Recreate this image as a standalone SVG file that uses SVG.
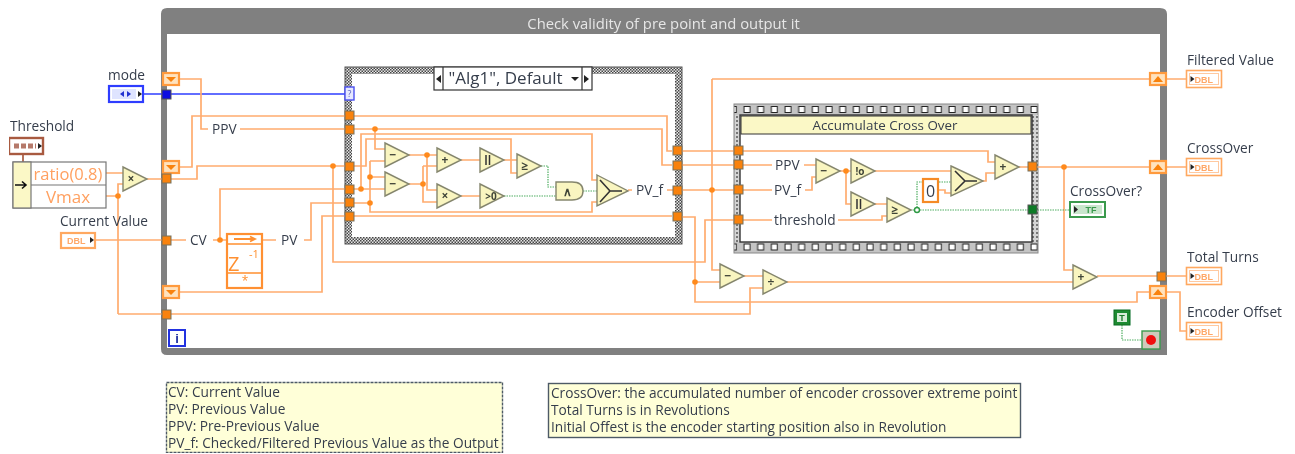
<svg xmlns="http://www.w3.org/2000/svg" width="1295" height="454" viewBox="0 0 1295 454">
<style>
text{font-family:"Open Sans","Noto Sans","Liberation Sans",sans-serif;fill:#363e4c;font-size:13.7px}
.w{fill:none;stroke:#ffac6f;stroke-width:1.7}
.g{fill:none;stroke:#4fae62;stroke-width:1.2;stroke-dasharray:1.5 1}
.b{fill:none;stroke:#2f3cff;stroke-width:1.4}
.j{fill:#ff8a1e}
.t{fill:#f98209;stroke:#77705f;stroke-width:1}
.tri{fill:#f9f5c0;stroke:#85866d;stroke-width:1.4}
.op{font-size:12px;text-anchor:middle;fill:#3f4438;font-weight:700}
.sr{fill:#ffe2bd;stroke:#ff9a3c;stroke-width:2.2}
.srf{fill:#f98209}
.term{fill:#fff;stroke:#ffa860;stroke-width:1.6}
.in{fill:none;stroke:#ffc9a0;stroke-width:1}
.dbl{font-size:9px;font-weight:700;fill:#ffa868;font-family:"Liberation Sans",sans-serif}
.note{fill:#ffffd8;stroke:#4d5a66;stroke-width:1.4}
</style>
<defs>
<filter id="soft" x="0" y="0" width="100%" height="100%"><feGaussianBlur stdDeviation="0.45"/></filter>
<pattern id="hatch" width="3" height="3" patternUnits="userSpaceOnUse"><rect width="3" height="3" fill="#e8e8e8"/><rect width="1.5" height="1.5" fill="#444"/><rect x="1.5" y="1.5" width="1.5" height="1.5" fill="#444"/></pattern>
<pattern id="film" width="13.67" height="149" patternUnits="userSpaceOnUse" x="740" y="104"><rect width="13.67" height="149" fill="#c4c4c4"/><rect x="4" y="2.5" width="6" height="6" fill="#fff" stroke="#222" stroke-width="1"/><rect x="4" y="140" width="6" height="6" fill="#fff" stroke="#222" stroke-width="1"/></pattern>
<pattern id="dots" width="4" height="4" patternUnits="userSpaceOnUse"><rect width="4" height="4" fill="#d4d4d4"/><rect width="2" height="2" fill="#777"/></pattern>
<polygon id="tr" class="tri" points="0,0 24,12 0,24"/>
<g id="srd"><rect class="sr" x="0" y="0" width="16" height="12"/><polygon class="srf" points="3,4 13,4 8,9"/></g>
<g id="sru"><rect class="sr" x="0" y="0" width="16" height="12"/><polygon class="srf" points="3,9 13,9 8,3"/></g>
<rect id="tn" class="t" width="9" height="9"/>
<g id="dblout"><rect class="term" x="0" y="0" width="35" height="17"/><rect class="in" x="3" y="3" width="29" height="11"/><polygon points="4,5.500 8,8.500 4,11.500" fill="#222"/><text class="dbl" x="8" y="12.500">DBL</text></g>
</defs>
<g filter="url(#soft)">
<g id="loop-frame">
<path d="M167 348V34H1160V348ZM161 14Q161 8 167 8H1160Q1167 8 1167 14V355H167Q161 355 161 349Z" fill="#808080" fill-rule="evenodd"/>
<text x="663.500" y="29" text-anchor="middle" style="fill:#e6e6e6;font-size:14.8px">Check validity of pre point and output it</text>
</g>
<g id="case-frame">
<rect x="345" y="67" width="337" height="177" fill="url(#hatch)" stroke="#555"/>
<rect x="352" y="74" width="323" height="163" fill="#fff"/>
</g>
<g id="sequence-frame">
<rect x="734" y="104" width="304" height="149" fill="url(#film)" stroke="#888"/>
<rect x="735" y="115" width="6" height="127" fill="url(#dots)"/>
<rect x="1032" y="115" width="6" height="127" fill="url(#dots)"/>
<rect x="740" y="115" width="292" height="127" fill="#fff" stroke="#333" stroke-width="1.4"/>
<rect x="741" y="116" width="290" height="18" fill="#fbf8c6" stroke="#333"/>
<text x="885" y="130" text-anchor="middle" style="font-size:13.4px">Accumulate Cross Over</text>
</g>
<g id="connectors">
<path class="b" d="M143 94H345"/>
<path class="w" style="stroke:#a85a40" d="M23 154V162"/>
<path class="w" d="M106 173H123M106 196H118M118 314V184H123M147 179H197V166H349M118 314H750V288H763"/>
<path class="w" d="M179 79H201V129H208M240 129H662V165H672M179 167H192V116H667V151H672"/>
<path class="w" d="M96 240H186M213 240H227M220 240V189H349M262 240H276M304 240H311V203H349M179 292H322V216H672"/>
<path class="w" d="M333 166V262H705V220H734"/>
<path class="w" d="M375 129V149H385M349 166H366V139H511V173H517M349 189H361V134H592V180H597M354 189H385M370 161H385M370 161V212H592V202H597M354 203H370M370 177H385"/>
<path class="w" d="M409 155H437M427 155V190H437M409 184H423M423 166V202H437M423 166H437M423 202H437M461 160H480M461 196H480M504 160H517M632 190H628M667 190H673"/>
<path class="g" d="M541 166H548V187H556M504 196H556M583 191H597"/>
<path class="w" d="M682 151H988V162H995M682 165H772M804 165H817M682 190H772M805 190H812V177H817M712 79H1150M712 79V270H720M682 217H695V302H1137V292H1150M695 282H720M743 220H772M838 220H882V216H887M744 276H763"/>
<path class="w" d="M840 171H851M846 171V204H851M875 171H951M875 204H887M938 190H945V193H951M983 181H986V173H995M1019 167H1150M1064 167V270H1073M787 282H1073M1097 276H1186M1167 79H1186M1167 167H1186M1167 292H1180V331H1186"/>
<path class="g" d="M910 210H1069M917 210V182H951M1122 325V340H1142"/>
<circle class="j" cx="118" cy="196" r="2.8"/><circle class="j" cx="220" cy="240" r="2.8"/><circle class="j" cx="333" cy="166" r="2.8"/><circle class="j" cx="375" cy="129" r="2.8"/><circle class="j" cx="361" cy="189" r="2.8"/><circle class="j" cx="370" cy="177" r="2.8"/><circle class="j" cx="370" cy="203" r="2.8"/><circle class="j" cx="427" cy="155" r="2.8"/><circle class="j" cx="423" cy="184" r="2.8"/><circle class="j" cx="712" cy="190" r="2.8"/><circle class="j" cx="695" cy="282" r="2.8"/><circle class="j" cx="846" cy="171" r="2.8"/><circle class="j" cx="1064" cy="167" r="2.8"/>
<circle cx="917" cy="210" r="2.5" fill="#fff" stroke="#2f9a45" stroke-width="1.4"/>
</g>
<g id="mode"><text x="108" y="80">mode</text><rect x="109" y="86" width="34" height="16" fill="#fff" stroke="#2f3cff" stroke-width="2.2"/><rect x="112" y="89" width="24" height="10" fill="#dfe4ff"/><polygon points="120,94 124,91 124,97" fill="#2230d0"/><polygon points="131,94 127,91 127,97" fill="#2230d0"/><polygon points="138,91 142,94 138,97" fill="#222"/><rect x="162" y="90" width="9" height="9" fill="#0a0ae0" stroke="#555"/><rect x="345" y="87" width="9" height="13" fill="#e6e8ff" stroke="#4a50f0" stroke-width="1.4"/><text x="349.500" y="97" text-anchor="middle" style="font-size:9px;fill:#5a60c0">?</text></g>
<g id="threshold"><text x="10" y="131">Threshold</text><rect x="9" y="138" width="34" height="16" fill="#fff" stroke="#a85a40" stroke-width="2.4"/><path d="M14 146H36" stroke="#b5796a" stroke-width="5" stroke-dasharray="5 2"/><polygon points="38,143 42,146 38,149" fill="#222"/></g>
<g id="bundle"><rect x="13" y="162" width="93" height="46" fill="#fff" stroke="#777" stroke-width="1.2"/><rect x="13" y="162" width="18" height="46" fill="#fbf8c6" stroke="#777" stroke-width="1.2"/><path d="M31 185H106" stroke="#777" stroke-width="1.2"/><path d="M15 185H25M22 181.500L26 185L22 188.500" stroke="#111" stroke-width="1.6" fill="none"/><text x="68" y="180" text-anchor="middle" style="font-size:16.500px;fill:#ffa060">ratio(0.8)</text><text x="68" y="203" text-anchor="middle" style="font-size:17px;fill:#ffa060">Vmax</text></g>
<g id="mult-threshold"><use href="#tr" x="123" y="167"/><text class="op" x="131" y="183">×</text></g>
<g id="current-value"><text x="60" y="226">Current Value</text><rect x="61" y="233" width="34" height="15" class="term" style="stroke-width:2.2"/><text class="dbl" x="67" y="244">DBL</text><polygon points="90,237 94,240 90,243" fill="#222"/></g>
<g id="left-tunnels"><use href="#srd" x="163" y="73"/><use href="#srd" x="163" y="161"/><use href="#srd" x="163" y="286"/><use href="#tn" x="162" y="174"/><use href="#tn" x="162" y="236"/><use href="#tn" x="162" y="310"/></g>
<g id="iter"><rect x="169" y="330" width="16" height="16" fill="#fff" stroke="#2230e0" stroke-width="2"/><text x="177" y="343" text-anchor="middle" style="font-size:13px;font-weight:700;fill:#2230a0;font-family:'Liberation Sans',sans-serif">i</text></g>
<g id="labels-left"><rect x="208" y="121" width="32" height="16" fill="#fff"/><text x="212" y="134">PPV</text><rect x="186" y="232" width="27" height="16" fill="#fff"/><text x="190" y="245">CV</text><rect x="276" y="232" width="28" height="16" fill="#fff"/><text x="281" y="245">PV</text></g>
<g id="delay"><rect x="227" y="234" width="35" height="54" fill="#fff" stroke="#ff9030" stroke-width="2.2"/><path d="M227 244H262M227 273H262" stroke="#ff9030" stroke-width="1.6"/><path d="M234 239H254M250 236.500L255 239L250 241.500" stroke="#ff9030" stroke-width="1.8" fill="none"/><text x="228" y="271" style="font-size:20px;fill:#ff9030">Z</text><text x="249" y="258" style="font-size:11px;fill:#ff9030">-1</text><text x="245" y="285" text-anchor="middle" style="font-size:12px;fill:#ff9030">*</text></g>
<g id="case-selector"><rect x="434" y="67" width="158" height="23" fill="#fff" stroke="#333" stroke-width="1.2"/><path d="M443 67V90M582 67V90" stroke="#333" stroke-width="1.2"/><polygon points="441,75 436,79 441,83" fill="#222"/><polygon points="584,75 589,79 584,83" fill="#222"/><polygon points="571,77 579,77 575,81" fill="#222"/><text x="505.500" y="84" text-anchor="middle" style="font-size:17px">"Alg1", Default</text></g>
<g id="case-tunnels"><use href="#tn" x="345" y="111"/><use href="#tn" x="345" y="125"/><use href="#tn" x="345" y="162"/><use href="#tn" x="345" y="185"/><use href="#tn" x="345" y="198"/><use href="#tn" x="345" y="212"/><use href="#tn" x="673" y="146"/><use href="#tn" x="673" y="161"/><use href="#tn" x="673" y="186"/><use href="#tn" x="673" y="212"/></g>
<g id="sub1"><use href="#tr" x="385" y="143"/><text class="op" x="393" y="159">−</text></g>
<g id="sub2"><use href="#tr" x="385" y="172"/><text class="op" x="393" y="188">−</text></g>
<g id="add1"><use href="#tr" x="437" y="148"/><text class="op" x="445" y="164">+</text></g>
<g id="mul1"><use href="#tr" x="437" y="184"/><text class="op" x="445" y="200">×</text></g>
<g id="abs1"><use href="#tr" x="480" y="148"/><path d="M486 155V165M489.500 155V165" stroke="#333" stroke-width="1.5"/></g>
<g id="gt0"><use href="#tr" x="480" y="184"/><text class="op" x="491" y="200" style="font-size:10px">&gt;0</text></g>
<g id="ge1"><use href="#tr" x="517" y="154"/><text class="op" x="525" y="170">≥</text></g>
<g id="and1"><path class="tri" d="M556 182H572Q583 182 583 191Q583 200 572 200H556Z"/><text class="op" x="567" y="196">∧</text></g>
<g id="select1"><polygon class="tri" points="597,175 628,191 597,206"/><path d="M600 180L610 191H622M600 202L610 191" stroke="#333" stroke-width="1.6" fill="none"/></g>
<text x="636" y="195">PV_f</text>
<g id="seq-tunnels"><use href="#tn" x="734" y="146"/><use href="#tn" x="734" y="160"/><use href="#tn" x="734" y="185"/><use href="#tn" x="734" y="215"/><use href="#tn" x="1028" y="162"/><rect x="1028" y="205" width="9" height="9" fill="#0b7a28" stroke="#555"/></g>
<g id="seq-labels"><text x="775" y="170">PPV</text><text x="774" y="195">PV_f</text><text x="774" y="225">threshold</text></g>
<g id="sub3"><use href="#tr" x="816" y="159"/><text class="op" x="824" y="175">−</text></g>
<g id="sign"><use href="#tr" x="851" y="159"/><text class="op" x="860" y="175" style="font-size:10px">!o</text></g>
<g id="abs2"><use href="#tr" x="851" y="192"/><path d="M857 199V209M860.500 199V209" stroke="#333" stroke-width="1.5"/></g>
<g id="ge2"><use href="#tr" x="887" y="198"/><text class="op" x="895" y="214">≥</text></g>
<g id="zero"><rect x="923" y="179" width="15" height="23" fill="#fff" stroke="#f58a28" stroke-width="2.2"/><text x="930.500" y="197" text-anchor="middle" style="font-size:16px">0</text></g>
<g id="select2"><polygon class="tri" points="951,166 983,181 951,196"/><path d="M955 171L965 181H977M955 191L965 181" stroke="#333" stroke-width="1.6" fill="none"/></g>
<g id="add2"><use href="#tr" x="995" y="155"/><text class="op" x="1003" y="171">+</text></g>
<g id="sub4"><use href="#tr" x="720" y="264"/><text class="op" x="728" y="280">−</text></g>
<g id="div1"><use href="#tr" x="763" y="270"/><text class="op" x="771" y="286">÷</text></g>
<g id="add3"><use href="#tr" x="1073" y="265"/><text class="op" x="1081" y="281">+</text></g>
<g id="crossover-q"><text x="1070" y="196">CrossOver?</text><rect x="1070" y="202" width="35" height="15" fill="#fff" stroke="#3a9a4e" stroke-width="2"/><rect x="1073" y="205" width="29" height="9" fill="#c9e6cd"/><polygon points="1074,206 1078,209.500 1074,213" fill="#222"/><text x="1091" y="213" text-anchor="middle" style="font-size:9px;font-weight:700;fill:#3a9a4e;font-family:'Liberation Sans',sans-serif">TF</text></g>
<g id="right-tunnels"><use href="#sru" x="1150" y="73"/><use href="#sru" x="1150" y="161"/><use href="#tn" x="1157" y="272"/><use href="#sru" x="1150" y="286"/></g>
<g id="filtered-value"><text x="1187" y="65">Filtered Value</text><use href="#dblout" x="1186.500" y="70.500"/></g>
<g id="crossover"><text x="1187" y="153">CrossOver</text><use href="#dblout" x="1186.500" y="158.500"/></g>
<g id="total-turns"><text x="1187" y="262">Total Turns</text><use href="#dblout" x="1186.500" y="267.500"/></g>
<g id="encoder-offset"><text x="1187" y="317">Encoder Offset</text><use href="#dblout" x="1186.500" y="322.500"/></g>
<g id="true-const"><rect x="1114" y="310" width="16" height="15" fill="#1a8a30" stroke="#0d6a20"/><rect x="1117" y="313" width="10" height="9" fill="#d7ecd9"/><text x="1122" y="321" text-anchor="middle" style="font-size:9px;font-weight:700;fill:#1a7a2c;font-family:'Liberation Sans',sans-serif">T</text></g>
<g id="stop"><rect x="1142" y="331" width="18" height="18" fill="#cfcabb" stroke="#3a9a4e" stroke-width="1.4"/><circle cx="1151" cy="340" r="5" fill="#f01010"/></g>
<g id="note-left"><rect class="note" x="166.500" y="382.500" width="336" height="70" stroke-dasharray="3 1"/><text x="168" y="397">CV: Current Value</text><text x="168" y="414">PV: Previous Value</text><text x="168" y="431">PPV: Pre-Previous Value</text><text x="168" y="448">PV_f: Checked/Filtered Previous Value as the Output</text></g>
<g id="note-right"><rect class="note" x="548.500" y="383.500" width="472" height="54"/><text x="551" y="398">CrossOver: the accumulated number of encoder crossover extreme point</text><text x="551" y="415">Total Turns is in Revolutions</text><text x="551" y="432">Initial Offest is the encoder starting position also in Revolution</text></g>
</g>
</svg>
